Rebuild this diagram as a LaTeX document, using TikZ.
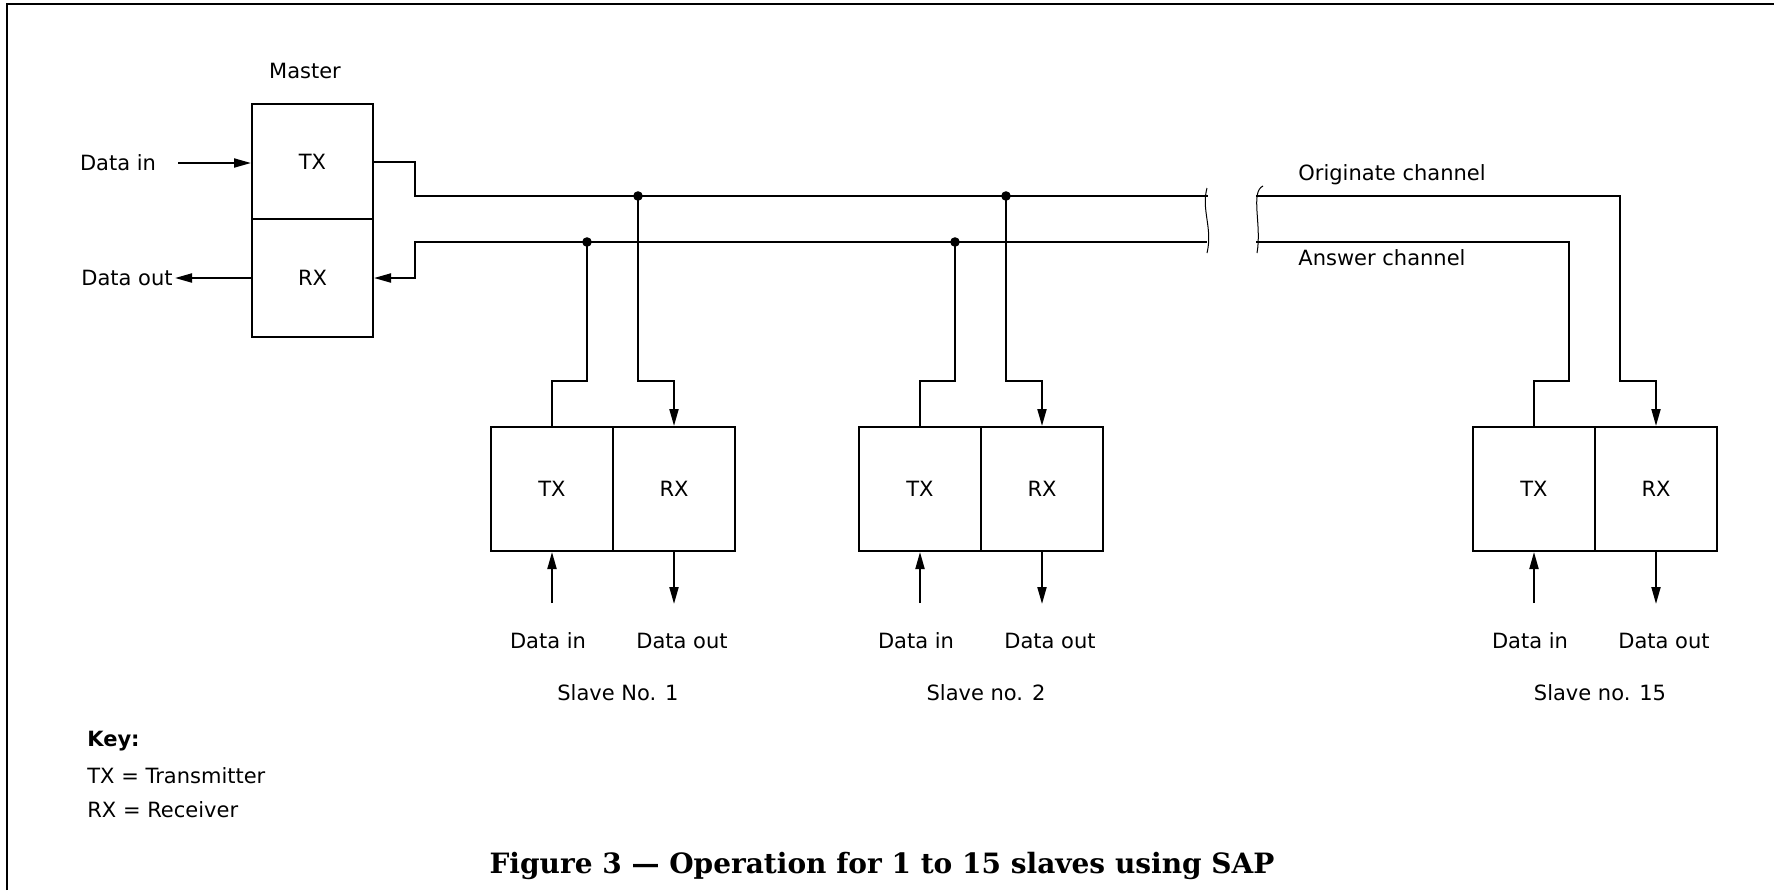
\documentclass[tikz,border=0pt]{standalone}
\usepackage{fontspec}
\setmainfont{DejaVu Sans}
\newfontfamily\capfont{DejaVu Serif}
\usetikzlibrary{arrows.meta}
\tikzset{
  unit/.style={draw,line width=1pt,minimum width=61pt,minimum height=62pt,inner sep=0pt,font=\fontsize{10.5}{12}\selectfont},
  munit/.style={draw,line width=1pt,minimum width=60.5pt,inner sep=0pt,font=\fontsize{10.5}{12}\selectfont},
  wire/.style={line width=1pt,line cap=rect},
  arr/.style={-{Triangle[length=8.5pt,width=4.5pt]},line width=1pt},
  lbl/.style={font=\fontsize{10.5}{12}\selectfont,inner sep=1pt},
  brk/.style={line width=0.5pt},
}

\begin{document}
\begin{tikzpicture}[x=0.5pt,y=-0.5pt]
  \useasboundingbox (0,0) rectangle (1774,890);
  \draw[line width=1.2pt] (7,890) -- (7,4) -- (1774,4);
  \node[lbl] (mlbl) at (305,71) {Master};
  \node[munit,minimum height=57.5pt] (mtx) at (312.5,161.5) {TX};
  \node[munit,minimum height=59pt] (mrx) at (312.5,278) {RX};
  \node[lbl] (mdin) at (118,163) {Data in};
  \node[lbl] (mdout) at (127,278) {Data out};
  \draw[arr] ([xshift=10pt]mdin.east) -- (mdin -| mtx.west);
  \draw[arr] (mrx.west) -- (mdout.east);
  \coordinate (oL) at (415,196); \coordinate (aL) at (415,242);
  \coordinate (oB) at (1207,196); \coordinate (aB) at (1207,242);
  \coordinate (oR) at (1257,196); \coordinate (aR) at (1257,242);
  \draw[wire] (mtx.east) -| (oL) -- (oB);
  \draw[arr] (aB) -- (aL) |- (mrx.east);
  \draw[brk] (1207,188) .. controls (1201,210) and (1213,228) .. (1207,253);
  \draw[brk] (1263,186) .. controls (1250,192) and (1262,225) .. (1257,253);
  \node[lbl,anchor=west] (ochan) at (1296,175) {Originate channel};
  \node[lbl,anchor=west] (achan) at (1296,258) {Answer channel};
  \foreach \x/\n/\name in {552/1/Slave No. 1,920/2/Slave no. 2,1534/15/Slave no. 15} {
    \node[unit] (tx\n) at (\x,489) {TX};
    \node[unit] (rx\n) at (\x+122,489) {RX};
    \coordinate (ta\n) at (\x+35,242);
    \coordinate (to\n) at (\x+86,196);
    \coordinate (ti\n) at (\x,603);
    \coordinate (ro\n) at (\x+122,604);
    \draw[wire] (ta\n) -- ++(0,139) -| (tx\n.north);
    \draw[arr] (to\n) -- ++(0,185) -| (rx\n.north);
    \draw[arr] (ti\n) -- (tx\n.south);
    \draw[arr] (rx\n.south) -- (ro\n);
    \node[lbl] (din\n) at (\x-4,641) {Data in};
    \node[lbl] (dout\n) at (\x+130,641) {Data out};
    \node[lbl] (sl\n) at (\x+66,693) {\name};
  }
  \draw[wire] (oR) -- (to15);
  \draw[wire] (aR) -- (ta15);
  \foreach \n in {1,2} {
    \fill (ta\n) circle (2.4pt);
    \fill (to\n) circle (2.4pt);
  }
  \node[lbl,anchor=west,font=\fontsize{10.5}{12}\selectfont\bfseries] (key) at (85,741) {Key:};
  \node[lbl,anchor=west] (ktx) at (85,776) {TX = Transmitter};
  \node[lbl,anchor=west] (krx) at (85,810) {RX = Receiver};
  \node[font=\capfont\bfseries\fontsize{14}{16}\selectfont] (cap) at (882,866) {Figure 3 — Operation for 1 to 15 slaves using SAP};
\end{tikzpicture}
\end{document}
